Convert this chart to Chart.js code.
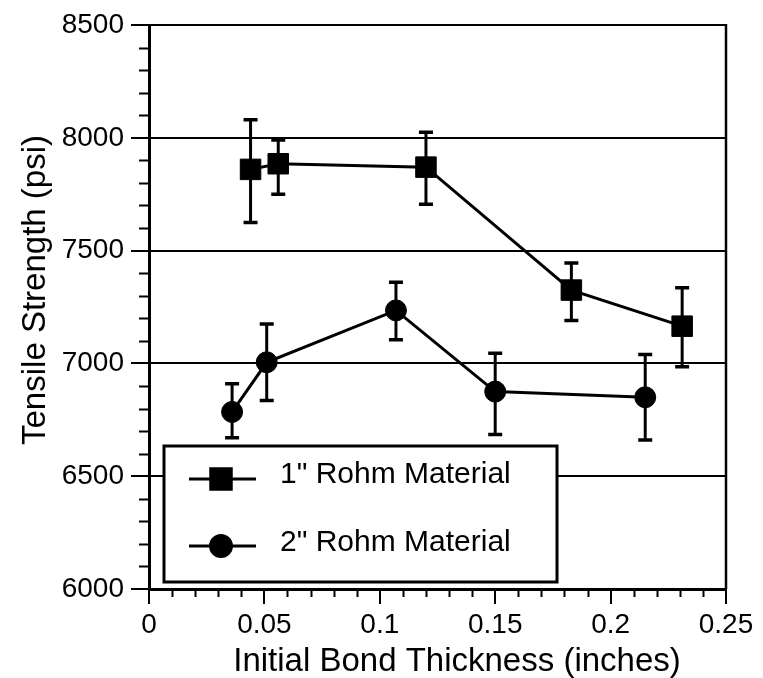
<!DOCTYPE html>
<html>
<head>
<meta charset="utf-8">
<script src="https://cdn.jsdelivr.net/npm/chart.js@4.4.1/dist/chart.umd.min.js"></script>
<style>
html, body { margin: 0; padding: 0; background: #fff; }
canvas { display: block; }
</style>
</head>
<body>
<canvas id="tensileChart" width="763" height="678"></canvas>
<script>
// 1" Rohm material
const thickness1 = [0.044, 0.056, 0.120, 0.183, 0.231];
const strength1 = [7860, 7885, 7870, 7325, 7165];
const strength1High = [8080, 7990, 8025, 7445, 7335];
const strength1Low = [7625, 7750, 7705, 7190, 6985];

// 2" Rohm material
const thickness2 = [0.036, 0.051, 0.107, 0.150, 0.215];
const strength2 = [6785, 7005, 7235, 6875, 6850];
const strength2High = [6910, 7175, 7360, 7045, 7040];
const strength2Low = [6670, 6835, 7105, 6685, 6660];

const seriesLabels = ['1" Rohm Material', '2" Rohm Material'];
const xTickLabels = ['0', '0.05', '0.1', '0.15', '0.2', '0.25'];
const yTickLabels = ['6000', '6500', '7000', '7500', '8000', '8500'];
const xTitle = 'Initial Bond Thickness (inches)';
const yTitle = 'Tensile Strength (psi)';

const FONT = '"Liberation Sans", Arial, sans-serif';

function toPoints(xs, ys) {
    return xs.map((x, i) => ({ x: x, y: ys[i] }));
}

// barras de error, dibujadas con las escalas del gráfico
const errorBars = {
    id: 'errorBars',
    afterDatasetsDraw(chart) {
        const ctx = chart.ctx;
        const xs = chart.scales.x, ys = chart.scales.y;
        ctx.save();
        ctx.strokeStyle = '#000';
        chart.data.datasets.forEach(ds => {
            ds.data.forEach((p, i) => {
                const px = xs.getPixelForValue(p.x);
                const top = ys.getPixelForValue(ds.errHigh[i]);
                const bot = ys.getPixelForValue(ds.errLow[i]);
                ctx.lineWidth = 3;
                ctx.beginPath();
                ctx.moveTo(px, top);
                ctx.lineTo(px, bot);
                ctx.stroke();
                ctx.lineWidth = 3.5;
                ctx.beginPath();
                ctx.moveTo(px - 7, top);
                ctx.lineTo(px + 7, top);
                ctx.moveTo(px - 7, bot);
                ctx.lineTo(px + 7, bot);
                ctx.stroke();
            });
        });
        ctx.restore();
    }
};

// marcas menores, borde derecho y títulos de los ejes
const axisExtras = {
    id: 'axisExtras',
    afterDraw(chart) {
        const ctx = chart.ctx;
        const area = chart.chartArea;
        const xs = chart.scales.x, ys = chart.scales.y;
        ctx.save();
        ctx.strokeStyle = '#000';
        ctx.lineWidth = 2;
        ctx.beginPath();
        for (let i = 1; i < 25; i++) {
            if (i % 5 === 0) continue;
            const px = Math.round(xs.getPixelForValue(i / 100)) + 0.5;
            ctx.moveTo(px, area.bottom);
            ctx.lineTo(px, area.bottom + 8);
            const py = Math.round(ys.getPixelForValue(6000 + i * 100)) + 0.5;
            ctx.moveTo(area.left, py);
            ctx.lineTo(area.left - 10, py);
        }
        ctx.stroke();
        ctx.lineWidth = 2.5;
        ctx.beginPath();
        ctx.moveTo(area.right, area.top - 1);
        ctx.lineTo(area.right, area.bottom);
        ctx.stroke();

        ctx.fillStyle = '#000';
        ctx.textAlign = 'center';
        ctx.textBaseline = 'middle';
        ctx.font = '33px ' + FONT;
        ctx.fillText(xTitle, 457, 662);
        ctx.translate(36, 290);
        ctx.rotate(-Math.PI / 2);
        ctx.fillText(yTitle, 0, 0);
        ctx.restore();
    }
};

// leyenda en recuadro dentro del área
const boxLegend = {
    id: 'boxLegend',
    afterDraw(chart) {
        const ctx = chart.ctx;
        ctx.save();
        ctx.fillStyle = '#fff';
        ctx.strokeStyle = '#000';
        ctx.lineWidth = 3;
        ctx.fillRect(164, 446, 393, 136);
        ctx.strokeRect(164, 446, 393, 136);
        chart.data.datasets.forEach((ds, i) => {
            const ly = 479 + i * 67;
            ctx.lineWidth = 3;
            ctx.beginPath();
            ctx.moveTo(189, ly);
            ctx.lineTo(256, ly);
            ctx.stroke();
            ctx.fillStyle = '#000';
            Chart.helpers.drawPoint(ctx, {
                pointStyle: ds.pointStyle,
                radius: ds.pointRadius,
                borderWidth: 1,
                rotation: 0
            }, 221, ly);
            ctx.font = '30px ' + FONT;
            ctx.textBaseline = 'alphabetic';
            ctx.textAlign = 'left';
            ctx.fillText(ds.label, 280, 483 + i * 68);
        });
        ctx.restore();
    }
};

Chart.defaults.font.family = FONT;
Chart.defaults.color = '#000';

const ctx = document.getElementById('tensileChart').getContext('2d');
new Chart(ctx, {
    type: 'scatter',
    data: {
        datasets: [{
            label: seriesLabels[0],
            data: toPoints(thickness1, strength1),
            errHigh: strength1High,
            errLow: strength1Low,
            showLine: true,
            borderColor: '#000',
            borderWidth: 3,
            pointStyle: 'rect',
            pointRadius: 14.5,
            pointBackgroundColor: '#000',
            pointBorderColor: '#000',
            pointBorderWidth: 1
        }, {
            label: seriesLabels[1],
            data: toPoints(thickness2, strength2),
            errHigh: strength2High,
            errLow: strength2Low,
            showLine: true,
            borderColor: '#000',
            borderWidth: 3,
            pointStyle: 'circle',
            pointRadius: 10.5,
            pointBackgroundColor: '#000',
            pointBorderColor: '#000',
            pointBorderWidth: 1
        }]
    },
    options: {
        responsive: false,
        animation: false,
        layout: { padding: { top: 25, right: 37, bottom: 0, left: 0 } },
        plugins: {
            legend: { display: false },
            tooltip: { enabled: false }
        },
        scales: {
            x: {
                type: 'linear',
                min: 0,
                max: 0.25,
                afterFit: scale => { scale.height = 89; },
                border: { display: true, color: '#000', width: 3 },
                grid: { drawOnChartArea: false, color: '#000', lineWidth: 2, tickLength: 15 },
                ticks: {
                    stepSize: 0.05,
                    padding: 4,
                    maxRotation: 0,
                    font: { size: 28 },
                    callback: (value, index) => xTickLabels[index]
                }
            },
            y: {
                min: 6000,
                max: 8500,
                afterFit: scale => { scale.width = 149; },
                border: { display: true, color: '#000', width: 3 },
                grid: { color: '#000', lineWidth: 2, tickLength: 18 },
                ticks: {
                    stepSize: 500,
                    padding: 7,
                    font: { size: 28 },
                    callback: (value, index) => yTickLabels[index]
                }
            }
        }
    },
    plugins: [errorBars, axisExtras, boxLegend]
});
</script>
</body>
</html>
